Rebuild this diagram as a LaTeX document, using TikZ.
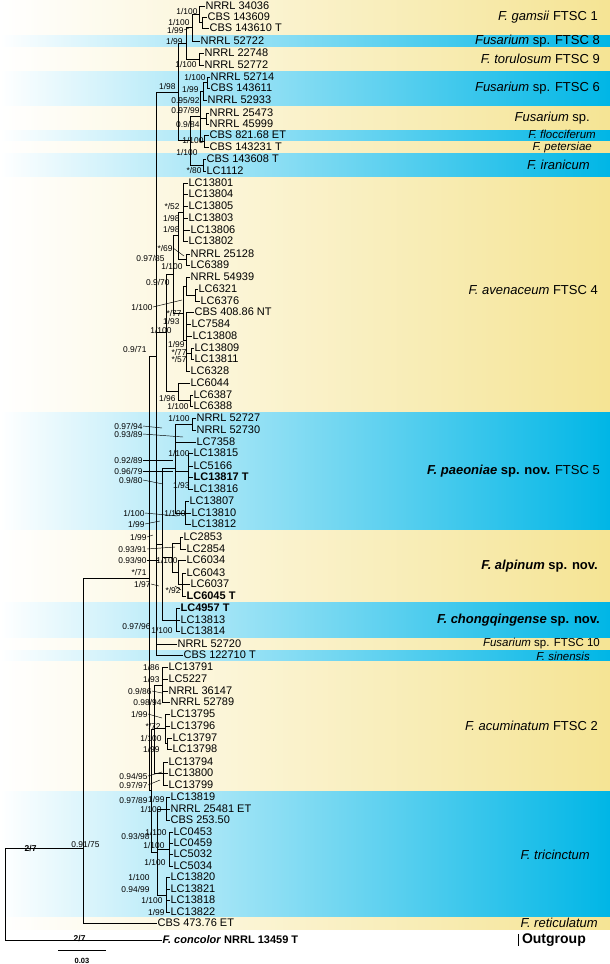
\documentclass[tikz,border=0pt]{standalone}
\usepackage{fontspec}
\setmainfont{Liberation Sans}
\definecolor{yelR}{RGB}{245,228,148}
\definecolor{yelM}{RGB}{250,242,206}
\definecolor{bluR}{RGB}{0,182,230}
\definecolor{bluM}{RGB}{145,216,242}
\tikzset{
 leaf/.style={anchor=west, inner sep=0.4pt, font=\fontsize{11}{11}\selectfont},
 sup/.style={anchor=east, inner sep=0.3pt, font=\fontsize{8.4}{8.4}\selectfont},
 clade/.style={anchor=east, inner sep=0pt, font=\fontsize{13}{13}\selectfont},
 cladesm/.style={anchor=east, inner sep=0pt, font=\fontsize{11.5}{11.5}\selectfont},
 br/.style={line width=1pt},
 lead/.style={line width=0.45pt},
 yband/.style={left color=white, middle color=yelM, right color=yelR},
 bband/.style={left color=white, middle color=bluM, right color=bluR},
}
\begin{document}
\begin{tikzpicture}[x=1pt,y=-1pt]
\useasboundingbox (0,0) rectangle (610,964);
% bands
\shade[yband] (0,0) rectangle (610,35);
\shade[bband] (0,35) rectangle (610,47);
\shade[yband] (0,47) rectangle (610,71);
\shade[bband] (0,71) rectangle (610,106);
\shade[yband] (0,106) rectangle (610,130);
\shade[bband] (0,130) rectangle (610,141);
\shade[yband] (0,141) rectangle (610,153);
\shade[bband] (0,153) rectangle (610,177);
\shade[yband] (0,177) rectangle (610,412);
\shade[bband] (0,412) rectangle (610,530);
\shade[yband] (0,530) rectangle (610,602);
\shade[bband] (0,602) rectangle (610,638);
\shade[yband] (0,638) rectangle (610,650);
\shade[bband] (0,650) rectangle (610,661);
\shade[yband] (0,661) rectangle (610,791);
\shade[bband] (0,791) rectangle (610,917);
\shade[yband] (0,917) rectangle (610,929);
% clade labels
\node[clade] (c1) at (598,17) {\textit{F. gamsii} FTSC 1};
\node[clade] (c2) at (600,41) {\textit{Fusarium} sp. FTSC 8};
\node[clade] (c3) at (600,59) {\textit{F. torulosum} FTSC 9};
\node[clade] (c4) at (600,88) {\textit{Fusarium} sp. FTSC 6};
\node[clade] (c5) at (590,118) {\textit{Fusarium} sp.};
\node[cladesm] (c6) at (596,134.5) {\textit{F. flocciferum}};
\node[cladesm] (c7) at (592,147.5) {\textit{F. petersiae}};
\node[clade] (c8) at (590,165) {\textit{F. iranicum}};
\node[clade] (c9) at (598,290) {\textit{F. avenaceum} FTSC 4};
\node[clade] (c10) at (600,471) {\textbf{\textit{F. paeoniae} sp. nov.} FTSC 5};
\node[clade] (c11) at (598,566) {\textbf{\textit{F. alpinum} sp. nov.}};
\node[clade] (c12) at (600,620) {\textbf{\textit{F. chongqingense} sp. nov.}};
\node[cladesm] (c13) at (600,643.5) {\textit{Fusarium} sp. FTSC 10};
\node[cladesm] (c14) at (590,656) {\textit{F. sinensis}};
\node[clade] (c15) at (598,726) {\textit{F. acuminatum} FTSC 2};
\node[clade] (c16) at (590,855) {\textit{F. tricinctum}};
\node[clade] (c17) at (598,923) {\textit{F. reticulatum}};
\node[clade, font=\bfseries\fontsize{14}{14}\selectfont] (c18) at (586,940) {Outgroup};
\draw[line width=1pt] (c18.west) ++(-3,-6) -- ++(0,12);
% leaves
\foreach \n/\y/\x/\t in {
1/6/205/NRRL 34036, 2/17/207/CBS 143609, 3/28/209/CBS 143610 T, 4/41/200/NRRL 52722,
5/53/204/NRRL 22748, 6/65/204/NRRL 52772, 7/77/210/NRRL 52714, 8/88/210/CBS 143611,
9/100/207/NRRL 52933, 10/113/209/NRRL 25473, 11/124/209/NRRL 45999, 12/135/209/CBS 821.68 ET,
13/147/209/CBS 143231 T, 14/159/206/CBS 143608 T, 15/171/206/LC1112,
16/183/188/LC13801, 17/194/188/LC13804, 18/206/188/LC13805, 19/218/188/LC13803,
20/230/190/LC13806, 21/241/188/LC13802, 22/254/190/NRRL 25128, 23/265/190/LC6389,
24/277/190/NRRL 54939, 25/289/198/LC6321, 26/301/200/LC6376, 27/312/194/CBS 408.86 NT,
28/324/191/LC7584, 29/336/192/LC13808, 30/348/194/LC13809, 31/359/194/LC13811,
32/371/190/LC6328, 33/383/190/LC6044, 34/395/193/LC6387, 35/406/193/LC6388,
36/418/196/NRRL 52727, 37/430/196/NRRL 52730, 38/442/196/LC7358, 39/453/193/LC13815,
40/466/193/LC5166, 41/477/193/\textbf{LC13817 T}, 42/489/193/LC13816, 43/501/189/LC13807,
44/513/191/LC13810, 45/524/191/LC13812, 46/537/183/LC2853, 47/549/186/LC2854,
48/560/186/LC6034, 49/573/186/LC6043, 50/584/190/LC6037, 51/596/186/\textbf{LC6045 T},
52/608/180/\textbf{LC4957 T}, 53/620/180/LC13813, 54/631/180/LC13814,
55/644/177/NRRL 52720, 56/655/183/CBS 122710 T,
57/667/168/LC13791, 58/679/168/LC5227, 59/691/168/NRRL 36147, 60/702/170/NRRL 52789,
61/714/170/LC13795, 62/726/170/LC13796, 63/738/172/LC13797, 64/749/172/LC13798,
65/762/168/LC13794, 66/773/168/LC13800, 67/785/168/LC13799,
68/797/170/LC13819, 69/809/170/NRRL 25481 ET, 70/820/170/CBS 253.50,
71/832/173/LC0453, 72/843/173/LC0459, 73/854/173/LC5032, 74/866/173/LC5034,
75/877/170/LC13820, 76/889/170/LC13821, 77/900/170/LC13818, 78/912/170/LC13822,
79/923/157/CBS 473.76 ET}
 {\node[leaf] (l\n) at (\x,\y) {\t};}
\node[leaf] (l80) at (162,940) {\textbf{\textit{F. concolor} NRRL 13459 T}};
% internal nodes
\coordinate (g1) at (202,22.5);
\coordinate (g2) at (199,14);
\coordinate (g3) at (192,27);
\coordinate (t1) at (199,59);
\coordinate (g4) at (186,43);
\coordinate (f1) at (207,82.5);
\coordinate (f2) at (203,91);
\coordinate (f3) at (206,118.5);
\coordinate (f4) at (204,141);
\coordinate (f6) at (200,116);
\coordinate (f5) at (203,165);
\coordinate (f8) at (190,140);
\coordinate (T1) at (178,92);
\coordinate (a1) at (183,212);
\coordinate (a2) at (186,259.5);
\coordinate (a3) at (178,235);
\coordinate (a4) at (195,295);
\coordinate (a5) at (186,286);
\coordinate (a7) at (191,353.5);
\coordinate (a6) at (186,340);
\coordinate (a8) at (183,313);
\coordinate (a9) at (173,274);
\coordinate (a10) at (190,400.5);
\coordinate (a11) at (178,391);
\coordinate (a12) at (166,332);
\coordinate (p1) at (192,424);
\coordinate (p3) at (188,471);
\coordinate (p4) at (185,513);
\coordinate (p5) at (175,468);
\coordinate (al1) at (180,543);
\coordinate (al2) at (182,584);
\coordinate (al3) at (178,572);
\coordinate (al4) at (172,557.5);
\coordinate (ch1) at (176,620);
\coordinate (U2) at (162,544);
\coordinate (U) at (156,356);
\coordinate (ac1) at (162,685);
\coordinate (ac2a) at (167,743.5);
\coordinate (ac2) at (165,728);
\coordinate (ac3) at (163,773);
\coordinate (ac) at (154,729);
\coordinate (tr1) at (166,809);
\coordinate (tr2) at (169,849);
\coordinate (tr3) at (166,895);
\coordinate (tr) at (157,852);
\coordinate (L) at (151,790);
\coordinate (M) at (149,578);
\coordinate (I) at (83,848);
\coordinate (R) at (5,894);
% branches
\foreach \p/\c in {g1/l2.west, g1/l3.west, g2/l1.west, g2/g1, g3/g2, g3/l4.west,
 t1/l5.west, t1/l6.west, g4/g3, g4/t1, f1/l7.west, f1/l8.west, f2/f1, f2/l9.west,
 f3/l10.west, f3/l11.west, f4/l12.west, f4/l13.west, f6/f2, f6/f3, f6/f4,
 f5/l14.west, f5/l15.west, f8/f6, f8/f5, T1/g4, T1/f8,
 a1/l16.west, a1/l17.west, a1/l18.west, a1/l19.west, a1/l20.west, a1/l21.west,
 a2/l22.west, a2/l23.west, a3/a1, a3/a2, a4/l25.west, a4/l26.west, a5/l24.west, a5/a4,
 a7/l30.west, a7/l31.west, a6/l27.west, a6/l28.west, a6/l29.west, a6/a7, a6/l32.west,
 a8/a5, a8/a6, a9/a3, a9/a8, a10/l34.west, a10/l35.west, a11/l33.west, a11/a10,
 a12/a9, a12/a11,
 p1/l36.west, p1/l37.west, p3/l39.west, p3/l40.west, p3/l41.west, p3/l42.west,
 p4/l43.west, p4/l44.west, p4/l45.west, p5/p1, p5/l38.west, p5/p3, p5/p4,
 al1/l46.west, al1/l47.west, al2/l49.west, al2/l50.west, al2/l51.west, al3/l48.west, al3/al2,
 al4/al1, al4/al3, ch1/l52.west, ch1/l53.west, ch1/l54.west,
 U2/p5, U2/al4, U2/ch1, U/T1, U/a12, U/U2, U/l55.west, U/l56.west,
 ac1/l57.west, ac1/l58.west, ac1/l59.west, ac1/l60.west, ac2a/l63.west, ac2a/l64.west,
 ac2/l61.west, ac2/l62.west, ac2/ac2a, ac3/l65.west, ac3/l66.west, ac3/l67.west,
 ac/ac1, ac/ac2, ac/ac3,
 tr1/l68.west, tr1/l69.west, tr1/l70.west, tr2/l71.west, tr2/l72.west, tr2/l73.west, tr2/l74.west,
 tr3/l75.west, tr3/l76.west, tr3/l77.west, tr3/l78.west, tr/tr1, tr/tr2, tr/tr3,
 L/ac, L/tr, M/U, M/L, I/M, I/l79.west, R/I, R/l80.west}
 {\draw[br] (\p) |- (\c);}
% support values without leaders (x/y/a/b gives a/b)
\foreach \x/\y/\a/\b in {
198/11/1/100, 190/22/1/100, 183/41/1/99, 197/64/1/100, 206/77/1/100,
176/86/1/98, 199/89/1/99, 200/100/0.95/92, 200/110/0.97/99, 200/124/0.9/84,
204/140/1/100, 198/152/1/100, 202/170/*/80,
180/206/*/52, 180/218/1/98, 180/229/1/98, 165/258/0.97/85, 183/266/1/100,
170/282/0.9/70, 182/313/*/77, 180/321/1/93, 172/330/1/100, 147/349/0.9/71,
185/344/1/99, 187/352/*/77, 187/359/*/57, 176/398/1/96, 189/406/1/100,
190/418/1/100, 190/453/1/100, 190/485/1/93, 186/513/1/100,
178/560/1/100, 147/572/*/71, 151/626/0.97/96, 173/630/1/100,
160/667/1/86, 160/679/1/93, 162/702/0.98/94, 161/726/*/72,
162/738/1/100, 160/749/1/99, 148/800/0.97/89, 165/799/1/99, 162/809/1/100,
150/836/0.93/98, 167/832/1/100, 165/845/1/100,
166/862/1/100, 150/877/1/100, 150/889/0.94/99, 163/900/1/100, 165/912/1/99}
 {\node[sup] at (\x,\y) {\a/\b};}
% support values with leader lines (x/y/a/b/dx/dy)
\foreach \n/\x/\y/\a/\b/\dx/\dy in {
1/184/30/1/99/5/-2, 2/173/248/*/69/11/8, 3/153/307/1/100/29/-7,
4/143/426/0.97/94/19/2, 5/143/434/0.93/89/40/3, 6/143/460/0.92/89/30/0,
7/143/471/0.96/79/30/0, 8/143/480/0.9/80/20/4, 9/145/513/1/100/32/3,
10/145/524/1/99/15/-3, 11/147/537/1/99/6/-2, 12/147/549/0.93/91/28/-2,
13/147/560/0.93/90/12/0, 14/151/584/1/97/8/2, 15/181/590/*/92/-6/-4,
16/152/691/0.9/86/10/2, 17/148/714/1/99/14/4, 18/148/776/0.94/95/14/-4,
19/148/785/0.97/97/12/-5}
 {\node[sup] (sl\n) at (\x,\y) {\a/\b};
  \draw[lead] (sl\n.east) -- ++(\dx,\dy);}
\node[sup] (s1) at (100,844) {0.91/75};
\node[sup, font=\bfseries\fontsize{8.5}{8.5}\selectfont] (s2) at (37,848) {2/7};
\node[sup, font=\bfseries\fontsize{8.5}{8.5}\selectfont] (s3) at (86,938) {2/7};
% scale bar
\coordinate (sb1) at (58,950);
\coordinate (sb2) at (106,950);
\draw[line width=0.8pt] (sb1) -- (sb2);
\node[font=\bfseries\fontsize{7.5}{7.5}\selectfont, inner sep=0pt] (sbl) at (82,961) {0.03};
\end{tikzpicture}
\end{document}
